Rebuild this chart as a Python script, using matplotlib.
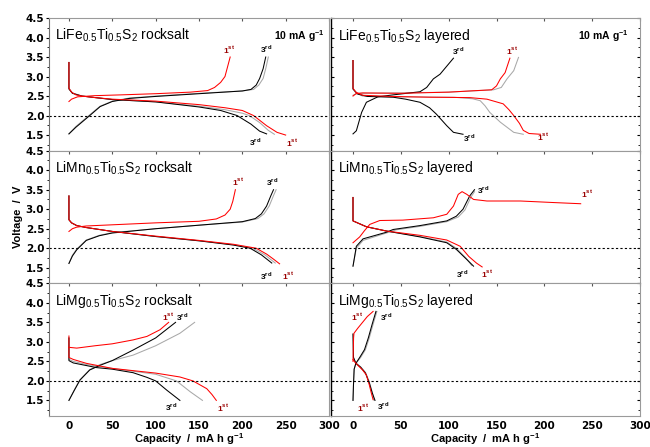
import matplotlib
matplotlib.use("Agg")
import matplotlib.pyplot as plt
import numpy as np

plt.rcParams['font.family'] = ['Liberation Sans', 'DejaVu Sans']
plt.rcParams['mathtext.fontset'] = 'custom'
plt.rcParams['mathtext.rm'] = 'Liberation Sans'
plt.rcParams['mathtext.bf'] = 'Liberation Sans:bold'

# (capacity mAh/g, voltage V)
# LiFe0.5Ti0.5S2 rocksalt
fe_rs_dis1 = [(0, 3.36), (0, 2.7), (3, 2.6), (8, 2.53), (15, 2.5), (30, 2.46), (50, 2.42), (100, 2.37),
              (150, 2.28), (180, 2.2), (200, 2.13), (213, 2.0), (228, 1.74), (240, 1.57), (250, 1.5)]
fe_rs_dis2 = [(0, 3.36), (0, 2.7), (4, 2.58), (15, 2.5), (50, 2.41), (100, 2.35), (150, 2.24),
              (180, 2.15), (200, 2.06), (208, 2.0), (220, 1.82), (230, 1.62), (237, 1.52)]
fe_rs_dis3 = [(0, 3.36), (0, 2.68), (4, 2.57), (15, 2.5), (50, 2.41), (100, 2.35), (150, 2.22),
              (175, 2.13), (194, 2.0), (210, 1.78), (220, 1.6), (228, 1.53)]
fe_rs_chg1 = [(0, 2.36), (3, 2.42), (10, 2.48), (30, 2.51), (60, 2.53), (100, 2.56), (140, 2.6),
              (160, 2.64), (168, 2.72), (175, 2.85), (180, 3.0), (183, 3.25), (186, 3.5)]
fe_rs_chg2 = [(0, 1.53), (8, 1.72), (16, 1.87), (24, 2.02), (36, 2.24), (50, 2.37), (70, 2.45), (100, 2.5),
              (150, 2.57), (200, 2.63), (213, 2.67), (219, 2.78), (224, 2.95), (227, 3.2), (230, 3.5)]
fe_rs_chg3 = [(0, 1.53), (8, 1.7), (16, 1.85), (24, 2.0), (36, 2.23), (50, 2.36), (70, 2.44), (100, 2.49),
              (150, 2.56), (200, 2.63), (210, 2.67), (216, 2.78), (220, 2.95), (224, 3.2), (227, 3.5)]

# LiMn0.5Ti0.5S2 rocksalt
mn_rs_dis1 = [(0, 3.34), (0, 2.73), (3, 2.65), (9, 2.58), (20, 2.53), (50, 2.43), (100, 2.31), (150, 2.2),
              (190, 2.1), (216, 2.0), (228, 1.85), (236, 1.72), (243, 1.6)]
mn_rs_dis2 = [(0, 3.34), (0, 2.73), (3, 2.65), (9, 2.58), (20, 2.53), (50, 2.43), (100, 2.3), (150, 2.19),
              (190, 2.09), (212, 2.0), (226, 1.83), (238, 1.62)]
mn_rs_dis3 = [(0, 3.34), (0, 2.73), (3, 2.65), (9, 2.58), (20, 2.53), (50, 2.43), (100, 2.3), (150, 2.19),
              (190, 2.08), (209, 2.0), (222, 1.83), (234, 1.62)]
mn_rs_chg1 = [(0, 2.43), (4, 2.5), (9, 2.54), (20, 2.57), (50, 2.6), (100, 2.65), (150, 2.69), (170, 2.75),
              (180, 2.85), (186, 3.0), (189, 3.2), (192, 3.5)]
mn_rs_chg2 = [(0, 1.61), (4, 1.82), (9, 1.98), (20, 2.21), (35, 2.33), (50, 2.4), (100, 2.5), (150, 2.59),
              (200, 2.67), (218, 2.76), (225, 2.88), (231, 3.08), (236, 3.35), (239, 3.5)]
mn_rs_chg3 = [(0, 1.61), (4, 1.8), (9, 1.96), (20, 2.2), (35, 2.32), (50, 2.39), (100, 2.5), (150, 2.59),
              (200, 2.68), (215, 2.76), (222, 2.88), (228, 3.08), (233, 3.35), (236, 3.5)]

# LiMg0.5Ti0.5S2 rocksalt
mg_rs_dis1 = [(0, 3.15), (0, 2.6), (5, 2.55), (20, 2.45), (50, 2.32), (100, 2.2), (128, 2.1), (143, 2.0),
              (159, 1.8), (165, 1.65), (170, 1.5)]
mg_rs_dis2 = [(0, 3.1), (0, 2.55), (5, 2.5), (20, 2.42), (50, 2.32), (100, 2.17), (124, 2.0), (140, 1.72),
              (154, 1.5)]
mg_rs_dis3 = [(0, 3.1), (0, 2.52), (5, 2.46), (32, 2.34), (50, 2.3), (74, 2.21), (90, 2.09), (100, 2.0),
              (113, 1.76), (128, 1.5)]
mg_rs_chg1 = [(0, 2.86), (9, 2.84), (30, 2.9), (50, 2.95), (74, 3.05), (90, 3.14), (105, 3.31), (115, 3.5)]
mg_rs_chg2 = [(0, 1.5), (6, 1.76), (12.7, 2.03), (24, 2.29), (36, 2.42), (50, 2.52), (74, 2.66), (100, 2.9),
              (128, 3.22), (145, 3.5)]
mg_rs_chg3 = [(0, 1.5), (6, 1.75), (12.7, 2.02), (24, 2.28), (36, 2.4), (50, 2.52), (74, 2.79), (100, 3.1),
              (123, 3.5)]

# LiFe0.5Ti0.5S2 layered
fe_ly_dis1 = [(0, 3.41), (0, 2.7), (3, 2.6), (10, 2.52), (40, 2.49), (80, 2.47), (122, 2.46), (140, 2.42),
              (157, 2.3), (163, 2.15), (168, 2.0), (174, 1.8), (178, 1.62), (184, 1.54), (196, 1.52)]
fe_ly_dis2 = [(0, 3.41), (0, 2.68), (3, 2.58), (10, 2.5), (40, 2.48), (105, 2.47), (125, 2.43), (133, 2.38),
              (138, 2.25), (143, 2.08), (154, 1.83), (168, 1.57), (178, 1.52)]
fe_ly_dis3 = [(0, 3.41), (0, 2.68), (5, 2.55), (15, 2.49), (42, 2.47), (55, 2.42), (70, 2.34), (80, 2.2),
              (87, 2.04), (98, 1.74), (105, 1.57), (115, 1.52)]
fe_ly_chg1 = [(0, 2.5), (3, 2.56), (10, 2.58), (50, 2.57), (100, 2.6), (122, 2.63), (145, 2.66), (150, 2.76),
              (154, 2.94), (159, 3.1), (164, 3.47)]
fe_ly_chg2 = [(0, 2.52), (5, 2.57), (50, 2.58), (100, 2.6), (147, 2.66), (155, 2.72), (161, 2.94),
              (168, 3.15), (173, 3.49)]
fe_ly_chg3 = [(0, 1.53), (3.5, 1.61), (9, 2.08), (14, 2.34), (26, 2.48), (42, 2.53), (70, 2.61), (77, 2.72),
              (84, 2.94), (91, 3.06), (105, 3.47)]

# LiMn0.5Ti0.5S2 layered
mn_ly_dis1 = [(0, 3.3), (0, 2.7), (14, 2.55), (35, 2.44), (70, 2.33), (98, 2.21), (112, 2.05), (121, 1.79),
              (129, 1.62), (135, 1.52)]
mn_ly_dis2 = [(0, 3.3), (0, 2.7), (14, 2.55), (35, 2.44), (70, 2.3), (98, 2.16), (108, 2.0), (118, 1.75),
              (124, 1.56)]
mn_ly_dis3 = [(0, 3.3), (0, 2.7), (14, 2.55), (35, 2.44), (70, 2.29), (98, 2.14), (108, 1.97), (119, 1.71),
              (126, 1.54)]
mn_ly_chg1 = [(0, 2.14), (7, 2.29), (12, 2.45), (17.5, 2.61), (28, 2.71), (52, 2.72), (84, 2.78), (98, 2.87),
              (105, 3.08), (110, 3.38), (114, 3.45), (119, 3.38), (126, 3.25), (140, 3.21), (175, 3.21),
              (210, 3.17), (238, 3.14)]
mn_ly_chg2 = [(0, 1.54), (3.5, 2.0), (10.5, 2.2), (35, 2.39), (45, 2.47), (70, 2.56), (98, 2.68), (110, 2.8),
              (117, 2.98), (123, 3.3), (127, 3.45)]
mn_ly_chg3 = [(0, 1.54), (3.5, 2.05), (10.5, 2.24), (35, 2.41), (42, 2.48), (70, 2.58), (98, 2.7), (108, 2.82),
              (115, 3.0), (122, 3.34), (127, 3.5)]

# LiMg0.5Ti0.5S2 layered
mg_ly_dis1 = [(0, 2.55), (2, 2.48), (5, 2.4), (10, 2.28), (14, 2.15), (17, 1.9), (19, 1.7), (21, 1.52)]
mg_ly_dis2 = [(0, 3.2), (0.5, 2.6), (3, 2.46), (8, 2.36), (13, 2.22), (17, 1.98), (20, 1.72), (22, 1.5)]
mg_ly_dis3 = [(0, 3.2), (0.5, 2.6), (3, 2.45), (8, 2.35), (13, 2.2), (17, 1.95), (20, 1.7), (23, 1.5)]
mg_ly_chg1 = [(0, 2.5), (0.3, 2.8), (0.6, 3.1), (1, 3.22), (5, 3.35), (10, 3.5), (15, 3.65), (21, 3.78)]
mg_ly_chg2 = [(0, 1.5), (0.5, 1.9), (1.2, 2.3), (3, 2.45), (8, 2.6), (13, 2.8), (17, 3.1), (21, 3.45), (25, 3.78)]
mg_ly_chg3 = [(0, 1.5), (0.5, 1.9), (1.2, 2.3), (3, 2.45), (7, 2.6), (12, 2.8), (16, 3.1), (20, 3.45), (24, 3.78)]

titles = [r'LiFe$_{\mathregular{0.5}}$Ti$_{\mathregular{0.5}}$S$_{\mathregular{2}}$ rocksalt',
          r'LiMn$_{\mathregular{0.5}}$Ti$_{\mathregular{0.5}}$S$_{\mathregular{2}}$ rocksalt',
          r'LiMg$_{\mathregular{0.5}}$Ti$_{\mathregular{0.5}}$S$_{\mathregular{2}}$ rocksalt',
          r'LiFe$_{\mathregular{0.5}}$Ti$_{\mathregular{0.5}}$S$_{\mathregular{2}}$ layered',
          r'LiMn$_{\mathregular{0.5}}$Ti$_{\mathregular{0.5}}$S$_{\mathregular{2}}$ layered',
          r'LiMg$_{\mathregular{0.5}}$Ti$_{\mathregular{0.5}}$S$_{\mathregular{2}}$ layered']
rate_label = r'10 mA g$^{\mathbf{-1}}$'
xticks = [0, 50, 100, 150, 200, 250, 300]
yticks = [1.5, 2.0, 2.5, 3.0, 3.5, 4.0, 4.5]

curves = [
    (fe_rs_dis1, fe_rs_dis2, fe_rs_dis3, fe_rs_chg1, fe_rs_chg2, fe_rs_chg3),
    (mn_rs_dis1, mn_rs_dis2, mn_rs_dis3, mn_rs_chg1, mn_rs_chg2, mn_rs_chg3),
    (mg_rs_dis1, mg_rs_dis2, mg_rs_dis3, mg_rs_chg1, mg_rs_chg2, mg_rs_chg3),
    (fe_ly_dis1, fe_ly_dis2, fe_ly_dis3, fe_ly_chg1, fe_ly_chg2, fe_ly_chg3),
    (mn_ly_dis1, mn_ly_dis2, mn_ly_dis3, mn_ly_chg1, mn_ly_chg2, mn_ly_chg3),
    (mg_ly_dis1, mg_ly_dis2, mg_ly_dis3, mg_ly_chg1, mg_ly_chg2, mg_ly_chg3),
]

# cycle labels: (cycle, capacity, voltage)
cycle_labels = [
    [('1', 185, 3.7), ('3', 228, 3.7), ('3', 215, 1.32), ('1', 257, 1.32)],
    [('1', 195, 3.7), ('3', 234, 3.7), ('3', 228, 1.3), ('1', 253, 1.3)],
    [('1', 114, 3.64), ('3', 130, 3.64), ('3', 118, 1.32), ('1', 178, 1.32)],
    [('3', 110, 3.66), ('1', 166, 3.66), ('3', 121, 1.42), ('1', 199, 1.46)],
    [('3', 136, 3.5), ('1', 245, 3.4), ('3', 114, 1.35), ('1', 140, 1.36)],
    [('1', 4, 3.64), ('3', 35, 3.63), ('1', 10, 1.32), ('3', 31, 1.35)],
]

RED = '#ff0000'
GREY = '#a8a8a8'
DARKRED = '#990000'
SPINE = '#9a9a9a'

W, H = 650, 447
fig = plt.figure(figsize=(W / 100, H / 100), dpi=100)

col_x = [(49, 329), (331, 640)]
top, bottom = 18, 416
row_h = (bottom - top) / 3

for idx in range(6):
    col, row = divmod(idx, 3)
    x0, x1 = col_x[col]
    y_top = top + row * row_h
    ax = fig.add_axes([x0 / W, 1 - (y_top + row_h) / H, (x1 - x0) / W, row_h / H])
    ax.set_xlim(-23, 300)
    ax.set_ylim(1.1, 4.5)

    d1, d2, d3, c1, c2, c3 = curves[idx]
    for pts, color in [(d2, GREY), (c2, GREY), (d3, 'black'), (c3, 'black'), (d1, RED), (c1, RED)]:
        a = np.array(pts)
        ax.plot(a[:, 0], a[:, 1], color=color, lw=0.75)
    ax.axhline(2.0, color='black', lw=0.8, ls=(0, (2, 2)))

    for num, q, v in cycle_labels[idx]:
        if num == '1':
            ax.text(q, v, r'1$^{\mathbf{st}}$', color=DARKRED, fontsize=6, fontweight='bold',
                    ha='center', va='center')
        else:
            ax.text(q, v, r'3$^{\mathbf{rd}}$', color='black', fontsize=6, fontweight='bold',
                    ha='center', va='center')

    ax.text(0.022, 0.935, titles[idx], transform=ax.transAxes, fontsize=10, va='top', ha='left')
    if row == 0:
        ax.text(0.985 if col == 0 else 0.962, 0.925, rate_label, transform=ax.transAxes,
                fontsize=7.5, fontweight='bold', va='top', ha='right')

    for s in ax.spines.values():
        s.set_color(SPINE)
        s.set_linewidth(0.8)
    ax.set_xticks(xticks)
    ax.set_yticks(yticks)
    ax.set_yticks(np.arange(1.25, 4.5, 0.25), minor=True)
    ax.tick_params(axis='x', which='both', direction='in', top=True, bottom=False, length=2.5,
                   color='#555555', labelbottom=(row == 2), labelsize=7.5)
    if col == 0:
        ax.spines['left'].set_color('#707070')
        ax.tick_params(axis='y', which='major', direction='out', length=2.5, labelsize=7.5, pad=1)
        ax.tick_params(axis='y', which='minor', direction='out', length=1.5)
    else:
        ax.spines['left'].set_color('black')
        ax.spines['left'].set_linewidth(1.0)
        ax.tick_params(axis='y', which='both', direction='in', left=True, right=True,
                       labelleft=False, length=2)
        ax.tick_params(axis='y', which='minor', length=1.2)
    for lab in ax.get_xticklabels() + ax.get_yticklabels():
        lab.set_fontweight('bold')
        lab.set_family('DejaVu Sans')

fig.text(18 / W, 1 - (top + 1.5 * row_h) / H, 'Voltage  /  V', rotation=90, fontsize=8,
         fontweight='bold', ha='center', va='center')
fig.text(189 / W, 1 - 439 / H, r'Capacity  /  mA h g$^{\mathbf{-1}}$', fontsize=8,
         fontweight='bold', ha='center', va='center')
fig.text(485 / W, 1 - 439 / H, r'Capacity  /  mA h g$^{\mathbf{-1}}$', fontsize=8,
         fontweight='bold', ha='center', va='center')

fig.savefig('out.png', dpi=100)
